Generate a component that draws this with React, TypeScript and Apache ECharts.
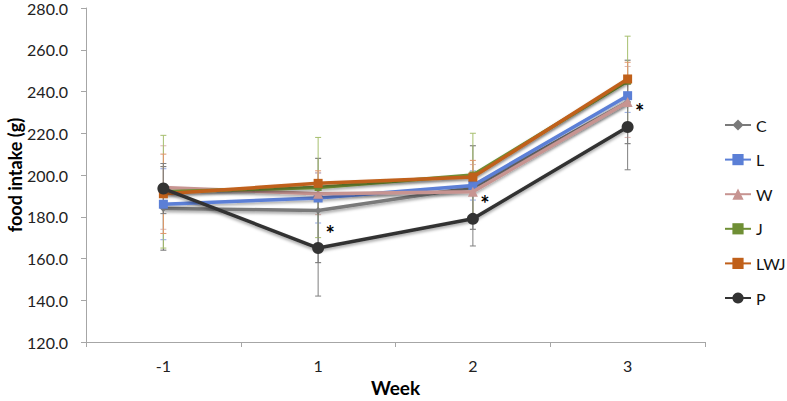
import React, { useEffect, useRef } from "react";
import * as echarts from "echarts";

const categories = ["-1", "1", "2", "3"];
const seriesNames = ["C", "L", "W", "J", "LWJ", "P"];
const valC = [184, 183, 194, 235];
const valL = [186, 189, 195, 238];
const valW = [194, 191, 192, 235];
const valJ = [192, 194, 200, 245];
const valLWJ = [191, 196, 199, 246];
const valP = [193.5, 165, 179, 223];
const errC = [20, 25, 20, 20];
const errL = [17, 12, 7, 8];
const errW = [20, 10, 13, 17];
const errJ = [27, 24, 20, 21.5];
const errLWJ = [19, 6, 8, 8];
const errP = [12, 23, 13, 20.5];
const sigP = [false, true, true, true];
const yTicks = { min: 120, max: 280, interval: 20 };

const FONT = "Lato, 'Open Sans', sans-serif";

export default function App() {
  const ref = useRef<HTMLDivElement>(null);
  useEffect(() => {
    if (!ref.current) return;
    const chart = echarts.init(ref.current, undefined, { renderer: "svg" });
    const vals = [valC, valL, valW, valJ, valLWJ, valP];
    const errs = [errC, errL, errW, errJ, errLWJ, errP];
    const colors = ["#7a7a7a", "#5b7fd6", "#c79491", "#6f8f35", "#c0601a", "#333333"];
    const errColors = ["#6a6a6a", "#8fa6e3", "#dcb3b0", "#a6bf6e", "#e0956a", "#7f7f7f"];
    const symbols = ["diamond", "rect", "triangle", "rect", "rect", "circle"];
    const sizes = [7, 9, 10, 7, 9, 12];

    const lineSeries = seriesNames.map((name, i) => ({
      name,
      type: "line",
      data: vals[i],
      symbol: symbols[i],
      symbolSize: sizes[i],
      z: 3 + i,
      itemStyle: { color: colors[i] },
      lineStyle: {
        color: colors[i],
        width: 3.5,
        shadowColor: "rgba(0,0,0,0.35)",
        shadowBlur: 3,
        shadowOffsetY: 2,
      },
      label:
        name === "P"
          ? {
              show: true,
              position: "inside",
              offset: [12, -15],
              formatter: (p: any) => (sigP[p.dataIndex] ? "*" : ""),
              fontSize: 22,
              fontWeight: "bold",
              color: "#000",
              fontFamily: FONT,
            }
          : { show: false },
    }));

    const errSeries = seriesNames.map((name, i) => ({
      name: name + "-err",
      type: "custom",
      z: 1,
      data: vals[i].map((v, k) => [k, v - errs[i][k], v + errs[i][k]]),
      encode: { x: 0, y: [1, 2] },
      renderItem: (params: any, api: any) => {
        const x = api.value(0);
        const lo = api.coord([x, api.value(1)]);
        const hi = api.coord([x, api.value(2)]);
        const hw = 3;
        const style = { stroke: errColors[i], lineWidth: 1 };
        return {
          type: "group",
          children: [
            { type: "line", shape: { x1: lo[0], y1: lo[1], x2: hi[0], y2: hi[1] }, style },
            { type: "line", shape: { x1: lo[0] - hw, y1: lo[1], x2: lo[0] + hw, y2: lo[1] }, style },
            { type: "line", shape: { x1: hi[0] - hw, y1: hi[1], x2: hi[0] + hw, y2: hi[1] }, style },
          ],
        };
      },
    }));

    chart.setOption({
      animation: false,
      textStyle: { fontFamily: FONT },
      grid: { left: 86, right: 82, top: 8, bottom: 59, containLabel: false, outerBoundsMode: "none" },
      legend: {
        data: seriesNames,
        orient: "vertical",
        left: 719,
        top: 110,
        itemWidth: 26,
        itemHeight: 14,
        itemGap: 14.6,
        textStyle: {
          fontSize: 16,
          color: "#111",
          fontFamily: FONT,
          lineHeight: 20,
        },
      },
      xAxis: {
        type: "category",
        data: categories,
        boundaryGap: true,
        name: "Week",
        nameLocation: "middle",
        nameGap: 36,
        nameTextStyle: { fontSize: 19, fontWeight: "bold", color: "#000", fontFamily: FONT },
        axisLine: { lineStyle: { color: "#a6a6a6", width: 1 } },
        axisTick: { show: true, length: 5, lineStyle: { color: "#a6a6a6" } },
        axisLabel: { fontSize: 16, color: "#222", margin: 15, fontFamily: FONT },
        splitLine: { show: false },
      },
      yAxis: {
        type: "value",
        min: yTicks.min,
        max: yTicks.max,
        interval: yTicks.interval,
        name: "food intake (g)",
        nameLocation: "middle",
        nameGap: 62,
        nameMoveOverlap: false,
        nameRotate: 90,
        nameTextStyle: { fontSize: 18, fontWeight: "bold", color: "#000", fontFamily: FONT },
        axisLine: { show: true, lineStyle: { color: "#a6a6a6", width: 1 } },
        axisTick: { show: true, length: 5, lineStyle: { color: "#a6a6a6" } },
        axisLabel: {
          fontSize: 16,
          color: "#222",
          margin: 18,
          fontFamily: FONT,
          formatter: (v: number) => v.toFixed(1),
        },
        splitLine: { show: false },
      },
      series: [...errSeries, ...lineSeries],
    });
    return () => chart.dispose();
  }, []);
  return <div ref={ref} style={{ width: 787, height: 401, position: "absolute", left: 0, top: 0 }} />;
}
